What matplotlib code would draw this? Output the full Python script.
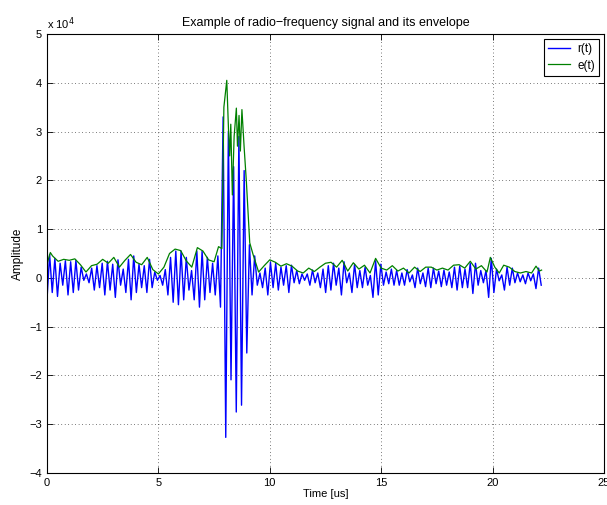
import numpy as np
import matplotlib
matplotlib.use("Agg")
import matplotlib.pyplot as plt

# values in units of 1e4
# r(t): alternating trough / peak samples, one every 0.118 us
dt_r = 0.118
r = [
    -0.45, 0.48, -0.30, 0.40, -0.38, 0.30, -0.15, 0.35, -0.35, 0.33,
    -0.30, 0.36, -0.25, 0.22, -0.05, 0.08, -0.10, 0.20, -0.25, 0.25,
    -0.20, 0.30, -0.35, 0.34, -0.25, 0.28, -0.40, 0.37, -0.15, 0.18,
    -0.30, 0.38, -0.45, 0.45, -0.30, 0.28, -0.20, 0.25, -0.30, 0.38,
    -0.20, 0.12, -0.05, 0.05, -0.15, 0.17, -0.35, 0.42, -0.50, 0.55,
    -0.55, 0.55, -0.45, 0.42, -0.25, 0.15, -0.45, 0.55, -0.60, 0.55,
    -0.45, 0.42, -0.30, 0.30, -0.35, 0.45, -0.60, 3.30, -3.27, 3.00,
    -2.09, 2.28, -2.75, 2.90, -2.61, 2.20, -1.54, 0.68, -0.35, 0.45,
    -0.15, 0.10, -0.20, 0.20, -0.35, 0.32, -0.20, 0.30, -0.25, 0.22,
    -0.15, 0.25, -0.30, 0.26, -0.10, 0.15, -0.12, 0.08, -0.05, 0.08,
    -0.15, 0.16, -0.10, 0.10, -0.20, 0.18, -0.30, 0.25, -0.25, 0.30,
    -0.15, 0.20, -0.35, 0.33, -0.10, 0.10, -0.30, 0.28, -0.20, 0.15,
    -0.20, 0.22, -0.15, 0.05, -0.40, 0.35, -0.35, 0.28, -0.15, 0.12,
    -0.12, 0.18, -0.15, 0.15, -0.15, 0.10, -0.15, 0.17, -0.08, 0.06,
    -0.20, 0.20, -0.12, 0.10, -0.18, 0.20, -0.20, 0.20, -0.12, 0.14,
    -0.18, 0.16, -0.15, 0.12, -0.20, 0.22, -0.25, 0.24, -0.20, 0.18,
    -0.20, 0.30, -0.32, 0.30, -0.15, 0.15, -0.10, 0.15, -0.40, 0.40,
    -0.30, 0.18, -0.06, 0.06, -0.25, 0.22, -0.15, 0.20, -0.10, 0.10,
    -0.08, 0.06, -0.12, 0.10, -0.06, 0.08, -0.22, 0.20, -0.15,
]

# e(t): envelope samples
t_e = [
    0.00, 0.15, 0.25, 0.50, 0.75, 1.00, 1.25, 1.50, 1.75, 2.00,
    2.25, 2.50, 2.75, 3.00, 3.25, 3.50, 3.75, 4.00, 4.25, 4.50,
    4.75, 5.00, 5.25, 5.50, 5.75, 6.00, 6.25, 6.50, 6.75, 7.00,
    7.25, 7.50, 7.70, 7.85, 7.94, 8.07, 8.15, 8.20, 8.25, 8.32,
    8.40, 8.50, 8.55, 8.62, 8.68, 8.75, 8.85, 8.95, 9.10, 9.25,
    9.50, 9.75, 10.00, 10.25, 10.50, 10.75, 11.00, 11.25, 11.50, 11.75,
    12.00, 12.25, 12.50, 12.75, 13.00, 13.25, 13.50, 13.75, 14.00, 14.25,
    14.50, 14.75, 15.00, 15.25, 15.50, 15.75, 16.00, 16.25, 16.50, 16.75,
    17.00, 17.25, 17.50, 17.75, 18.00, 18.25, 18.50, 18.75, 19.00, 19.25,
    19.50, 19.75, 19.90, 20.10, 20.30, 20.50, 20.75, 21.00, 21.25, 21.50,
    21.75, 21.95, 22.10, 22.20,
]
e = [
    0.28, 0.52, 0.45, 0.34, 0.38, 0.36, 0.39, 0.27, 0.12, 0.25,
    0.28, 0.38, 0.30, 0.42, 0.22, 0.36, 0.48, 0.32, 0.27, 0.42,
    0.17, 0.08, 0.22, 0.50, 0.59, 0.56, 0.35, 0.22, 0.62, 0.55,
    0.37, 0.33, 0.64, 0.60, 3.50, 4.05, 3.00, 2.50, 3.15, 1.70,
    2.90, 3.48, 2.70, 3.33, 2.60, 3.45, 2.67, 1.97, 0.72, 0.48,
    0.12, 0.25, 0.37, 0.32, 0.24, 0.29, 0.24, 0.14, 0.10, 0.20,
    0.13, 0.22, 0.30, 0.32, 0.22, 0.36, 0.14, 0.31, 0.18, 0.26,
    0.10, 0.40, 0.20, 0.16, 0.25, 0.14, 0.20, 0.10, 0.22, 0.13,
    0.22, 0.22, 0.16, 0.20, 0.16, 0.26, 0.27, 0.20, 0.34, 0.18,
    0.25, 0.12, 0.42, 0.22, 0.10, 0.26, 0.22, 0.13, 0.10, 0.13,
    0.10, 0.24, 0.14, 0.16,
]

t_r = np.arange(len(r)) * dt_r

plt.rcParams['font.family'] = ['Liberation Sans', 'DejaVu Sans']
plt.rcParams['font.size'] = 8

fig = plt.figure(figsize=(6.07, 5.05), dpi=100)
ax = fig.add_axes([0.0774, 0.0634, 0.9176, 0.8693])

ax.plot(t_r, r, color=(0, 0, 1), lw=1.0, label='r(t)')
ax.plot(t_e, e, color=(0, 0.5, 0), lw=0.9, label='e(t)')

ax.set_xlim(0, 25)
ax.set_ylim(-4, 5)
ax.set_xticks([0, 5, 10, 15, 20, 25])
ax.set_yticks(range(-4, 6))
ax.grid(True, linestyle=(0, (1, 4)), color='black', lw=0.5)
ax.tick_params(direction='in', length=4, width=0.6, labelsize=8, top=True, right=True)
for s in ax.spines.values():
    s.set_linewidth(0.8)

ax.set_xlabel('Time [us]', fontsize=8, labelpad=1)
ax.set_ylabel('Amplitude', fontsize=8.5, labelpad=4)
ax.set_title('Example of radio\u2212frequency signal and its envelope', fontsize=9, pad=6)
ax.text(0, 1.005, 'x 10$^4$', transform=ax.transAxes, fontsize=8, va='bottom', ha='left')

leg = ax.legend(loc='upper right', fontsize=8.5, fancybox=False, framealpha=1,
                edgecolor='black', handlelength=1.9, borderaxespad=0.4,
                borderpad=0.35, labelspacing=0.4, handletextpad=0.6)
leg.get_frame().set_linewidth(0.8)

fig.savefig('out.png', dpi=100)
